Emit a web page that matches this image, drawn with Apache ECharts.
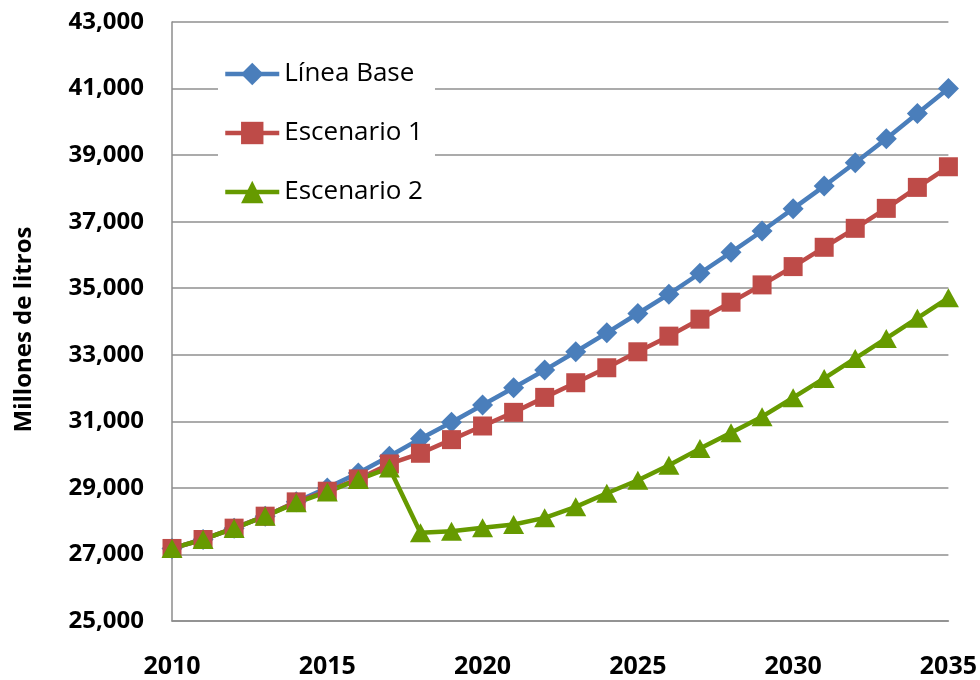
<!DOCTYPE html>
<html>
<head>
<meta charset="utf-8">
<title>Millones de litros 2010-2035</title>
<script src="https://cdn.jsdelivr.net/npm/echarts@6/dist/echarts.min.js"></script>
<style>
  html, body { margin: 0; padding: 0; background: #ffffff; }
  #chart { width: 980px; height: 680px; }
</style>
</head>
<body>
<div id="chart"></div>
<script>
// Years on the horizontal axis
const years = [2010, 2011, 2012, 2013, 2014, 2015, 2016, 2017, 2018, 2019, 2020, 2021, 2022,
               2023, 2024, 2025, 2026, 2027, 2028, 2029, 2030, 2031, 2032, 2033, 2034, 2035];

// Series names
const seriesNames = ['Línea Base', 'Escenario 1', 'Escenario 2'];

// Millones de litros per year
const lineaBase = [27180, 27450, 27790, 28150, 28580, 29000, 29450, 29950, 30480, 30970,
                   31490, 32010, 32540, 33090, 33660, 34240, 34820, 35450, 36080, 36720,
                   37390, 38070, 38770, 39490, 40250, 41000];
const escenario1 = [27180, 27450, 27790, 28150, 28580, 28900, 29270, 29720, 30040, 30450,
                    30860, 31270, 31720, 32160, 32610, 33090, 33560, 34070, 34580, 35100,
                    35650, 36230, 36800, 37400, 38030, 38650];
const escenario2 = [27180, 27450, 27780, 28150, 28550, 28880, 29250, 29600, 27650, 27700,
                    27800, 27900, 28100, 28430, 28840, 29230, 29680, 30180, 30660, 31140,
                    31710, 32290, 32890, 33490, 34100, 34710];

// Axis settings
const xMin = 2010, xMax = 2035, xStep = 5;
const yMin = 25000, yMax = 43000, yStep = 2000;

const colors = ['#4a7ebb', '#be4b48', '#669a00'];
const symbols = ['diamond', 'rect', 'triangle'];
const symbolSizes = [[21, 21], [19, 19], [21, 19]];
const values = [lineaBase, escenario1, escenario2];

const chart = echarts.init(document.getElementById('chart'), null, { renderer: 'canvas' });

const fmt = v => v.toLocaleString('en-US');

chart.setOption({
  animation: false,
  backgroundColor: '#ffffff',
  grid: { left: 172, right: 31, top: 22, bottom: 59, containLabel: false },
  legend: {
    data: seriesNames,
    orient: 'vertical',
    left: 218,
    top: 46,
    backgroundColor: '#ffffff',
    padding: [13, 12, 14, 5],
    itemWidth: 54,
    itemHeight: 28,
    itemGap: 29,
    lineStyle: { width: 4.5 },
    textStyle: {
      fontFamily: 'Open Sans',
      fontSize: 26,
      color: '#000000',
      lineHeight: 30
    }
  },
  xAxis: {
    type: 'value',
    min: xMin,
    max: xMax,
    interval: xStep,
    axisLine: { show: true, lineStyle: { color: '#8c8c8c', width: 1.5 } },
    axisTick: { show: false },
    splitLine: { show: false },
    axisLabel: {
      margin: 33,
      fontFamily: 'Open Sans',
      fontWeight: 'bold',
      fontSize: 25,
      color: '#000000',
      formatter: v => String(v)
    }
  },
  yAxis: {
    type: 'value',
    min: yMin,
    max: yMax,
    interval: yStep,
    name: 'Millones de litros',
    nameLocation: 'middle',
    nameGap: 136,
    nameRotate: 90,
    nameTextStyle: {
      fontFamily: 'Open Sans',
      fontWeight: 'bold',
      fontSize: 24,
      color: '#000000',
      padding: [0, 16, 0, 0]
    },
    axisLine: { show: true, lineStyle: { color: '#8c8c8c', width: 1.5 } },
    axisTick: { show: false },
    splitLine: { show: true, lineStyle: { color: '#8f8f8f', width: 1.5 } },
    axisLabel: {
      margin: 28,
      fontFamily: 'Open Sans',
      fontWeight: 'bold',
      fontSize: 24,
      color: '#000000',
      formatter: fmt
    }
  },
  series: seriesNames.map((name, i) => ({
    name: name,
    type: 'line',
    data: years.map((y, j) => [y, values[i][j]]),
    symbol: symbols[i],
    symbolSize: symbolSizes[i],
    showAllSymbol: true,
    color: colors[i],
    lineStyle: { color: colors[i], width: 4.5 },
    itemStyle: { color: colors[i], borderWidth: 0 },
    emphasis: { disabled: true }
  }))
});
</script>
</body>
</html>
